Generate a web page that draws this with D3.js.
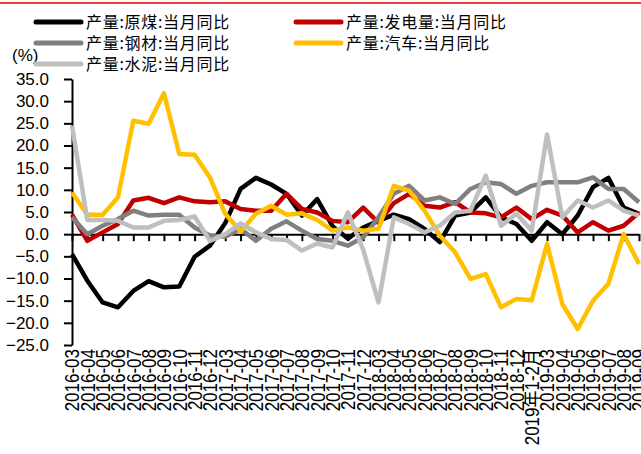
<!DOCTYPE html>
<html lang="zh">
<head>
    <meta charset="UTF-8">
    <title>产量当月同比</title>
    <script src="https://d3js.org/d3.v7.min.js"></script>
    <style>
        body { margin: 0; background: #fff; }
        svg text { font-family: "Liberation Sans", Arial, "Noto Sans CJK SC", sans-serif; }
        .legend text { font-family: "Noto Sans CJK SC", sans-serif; letter-spacing: 0.7px; }
    </style>
</head>
<body>
    <div id="chart"></div>
    <script>
        // categories (months)
        const categories = [
            "2016-03", "2016-04", "2016-05", "2016-06", "2016-07", "2016-08", "2016-09", "2016-10", "2016-11", "2016-12",
            "2017-03", "2017-04", "2017-05", "2017-06", "2017-07", "2017-08", "2017-09", "2017-10", "2017-11", "2017-12",
            "2018-03", "2018-04", "2018-05", "2018-06", "2018-07", "2018-08", "2018-09", "2018-10", "2018-11", "2018-12",
            "2019年1-2月", "2019-03", "2019-04", "2019-05", "2019-06", "2019-07", "2019-08", "2019-09"
        ];

        // series values, %
        const coal = [-4.5, -10.5, -15.4, -16.5, -12.8, -10.6, -12.0, -11.8, -5.1, -2.6,
            2.5, 10.2, 12.7, 11.2, 9.1, 4.2, 7.9, 1.8, -1.0, 1.5,
            3.0, 4.4, 3.4, 1.2, -1.8, 4.2, 4.9, 8.3, 3.8, 2.3,
            -1.5, 2.7, 0.0, 4.2, 10.6, 12.7, 6.0, 4.6];
        const power = [4.4, -1.5, 0.4, 2.3, 7.6, 8.2, 7.0, 8.3, 7.4, 7.2,
            7.4, 5.7, 5.3, 5.3, 9.1, 5.7, 4.9, 3.0, 2.7, 6.0,
            2.6, 7.0, 9.1, 6.4, 6.0, 7.2, 4.9, 4.7, 3.8, 6.0,
            3.4, 5.5, 4.2, 0.4, 2.7, 0.8, 1.9, 4.9];
        const steel = [3.8, 0.0, 1.9, 3.4, 5.3, 4.2, 4.4, 4.4, 1.5, -0.3,
            -0.6, 1.2, -1.5, 1.2, 2.9, 0.8, -1.1, -1.5, -2.6, -0.7,
            3.8, 9.1, 10.9, 7.6, 8.3, 6.8, 10.2, 11.7, 11.3, 9.1,
            10.9, 11.7, 11.7, 11.7, 12.8, 10.2, 10.2, 7.2];
        const autos = [9.4, 4.4, 4.4, 8.3, 25.6, 24.9, 31.8, 18.1, 17.9, 12.8,
            4.6, 0.6, 4.6, 6.4, 4.4, 4.7, 3.2, 0.8, 1.5, 0.8,
            1.2, 10.9, 9.8, 5.3, -0.3, -4.1, -10.1, -9.0, -16.5, -14.6,
            -14.9, -2.2, -15.8, -21.4, -15.0, -11.2, 0.0, -6.7];
        const cement = [24.5, 3.2, 3.2, 3.0, 1.5, 1.5, 3.0, 3.2, 4.0, -1.5,
            0.0, 2.4, 0.4, -1.1, -1.3, -3.7, -2.1, -3.0, 4.9, -3.5,
            -15.4, 3.8, 2.3, 0.4, 1.9, 4.9, 5.3, 13.2, 1.9, 4.6,
            0.8, 22.5, 3.8, 7.6, 6.0, 7.6, 5.3, 4.2];

        const seriesNames = ["产量:原煤:当月同比", "产量:发电量:当月同比", "产量:钢材:当月同比", "产量:汽车:当月同比", "产量:水泥:当月同比"];
        const seriesValues = [coal, power, steel, autos, cement];
        const colors = ["#000000", "#C00000", "#808080", "#FFC000", "#BFBFBF"];

        const yTicks = [35, 30, 25, 20, 15, 10, 5, 0, -5, -10, -15, -20, -25];

        const width = 641, height = 454;
        const svg = d3.select("#chart").append("svg")
            .attr("width", width)
            .attr("height", height);

        // red rule at the top
        svg.append("line")
            .attr("x1", 0).attr("x2", width)
            .attr("y1", 3).attr("y2", 3)
            .attr("stroke", "#E60000")
            .attr("stroke-width", 1.5);

        const x = d3.scalePoint().domain(categories).range([72, 639]);
        const y = d3.scaleLinear().domain([-25, 35]).range([345, 79]);

        // y axis
        const yAxis = svg.append("g")
            .attr("transform", "translate(72,0)")
            .call(d3.axisLeft(y).tickValues(yTicks).tickFormat(d3.format(".1f"))
                .tickSizeInner(8).tickSizeOuter(0).tickPadding(15));
        yAxis.select(".domain").attr("stroke", "#000").attr("stroke-width", 2);
        yAxis.selectAll(".tick line").attr("stroke", "#000").attr("stroke-width", 2);
        yAxis.selectAll(".tick text").attr("font-size", 17).attr("fill", "#000");

        // x axis at zero
        const xAxis = svg.append("g")
            .attr("transform", `translate(0,${y(0)})`)
            .call(d3.axisBottom(x).tickFormat("").tickSizeInner(7).tickSizeOuter(0));
        xAxis.select(".domain").attr("stroke", "#000").attr("stroke-width", 2);
        xAxis.selectAll(".tick line").attr("stroke", "#000").attr("stroke-width", 2);

        // category labels at the bottom, rotated (glyphs a bit widened like the original)
        const xLabels = svg.append("g")
            .attr("transform", "translate(0,349)")
            .call(d3.axisBottom(x).tickSize(0).tickPadding(0));
        xLabels.select(".domain").remove();
        xLabels.selectAll(".tick text")
            .attr("font-size", 17)
            .attr("fill", "#000")
            .attr("transform", "rotate(-90) scale(1,1.15)")
            .attr("text-anchor", "end")
            .attr("x", 0)
            .attr("y", 0)
            .attr("dy", "0.35em");

        // lines
        const line = d3.line()
            .x((d, i) => x(categories[i]))
            .y(d => y(d));

        svg.append("g").selectAll("path")
            .data(seriesValues)
            .join("path")
            .attr("d", line)
            .attr("fill", "none")
            .attr("stroke", (d, i) => colors[i])
            .attr("stroke-width", 4.5)
            .attr("stroke-linejoin", "round");

        // "(%)" unit label
        svg.append("text")
            .attr("x", 12).attr("y", 61)
            .attr("font-size", 17)
            .text("(%)");

        // legend
        const legendPos = [[36, 22], [296, 22], [36, 43], [296, 43], [36, 64]];
        const legend = svg.append("g").attr("class", "legend")
            .selectAll("g")
            .data(seriesNames)
            .join("g")
            .attr("transform", (d, i) => `translate(${legendPos[i][0]},${legendPos[i][1]})`);
        legend.append("line")
            .attr("x1", 0).attr("x2", 45)
            .attr("stroke", (d, i) => colors[i])
            .attr("stroke-width", 5)
            .attr("stroke-linecap", "round");
        legend.append("text")
            .attr("x", 50)
            .attr("dy", "0.35em")
            .attr("font-size", 16)
            .text(d => d);
    </script>
</body>
</html>
